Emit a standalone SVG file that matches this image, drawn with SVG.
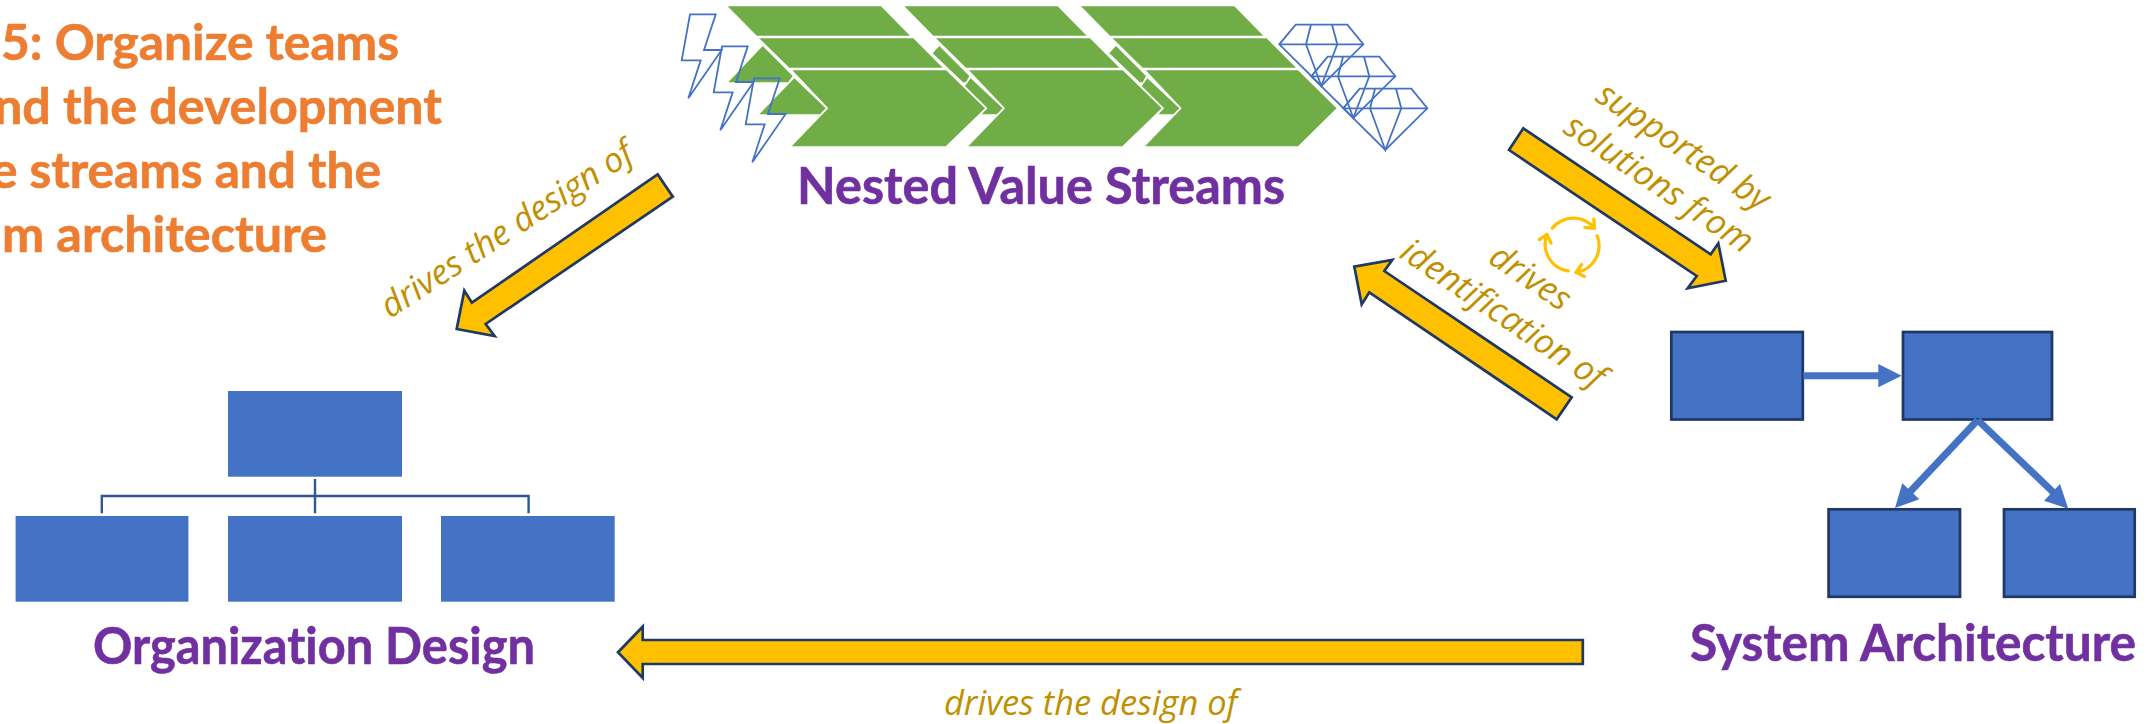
<svg xmlns="http://www.w3.org/2000/svg" width="2151" height="724" viewBox="0 0 2151 724">
<style>
.title{font-family:"Lato","Liberation Sans",sans-serif;font-weight:700;font-size:51px;fill:#7030a0;stroke:#7030a0;stroke-width:.6;font-variant-ligatures:none}
.step{font-family:"Lato","Liberation Sans",sans-serif;font-weight:700;font-size:49px;fill:#ed7d31;stroke:#ed7d31;stroke-width:.6;font-variant-ligatures:none}
.lbl{font-family:"Open Sans","Liberation Sans",sans-serif;font-style:italic;font-size:34.4px;fill:#bf9000}
.box{fill:#4472c4}
.sys{fill:#4472c4;stroke:#1f3864;stroke-width:2.7}
.big{fill:#ffc000;stroke:#1f3864;stroke-width:2.7}
.green{fill:#70ad47}
.ico{fill:none;stroke:#4472c4;stroke-width:1.8}
.org{fill:none;stroke:#2f5597;stroke-width:2.4}
.cyc{fill:none;stroke:#ffc000;stroke-width:3.2;stroke-linecap:round;stroke-linejoin:round}
</style>
<defs>
<g id="bands">
<polygon class="green" points="727.7,6.3 881,6.3 910,35.7 756.7,35.7"/>
<polygon class="green" points="759.3,38.3 913.3,38.3 942.7,67.7 789.3,67.7"/>
</g>
<g id="nested">
<polygon class="green" points="939.3,46 969.3,76 966,82.3 963,82.3 932.7,53.3"/>
<polygon class="green" points="970.7,78.3 1002.7,108.3 996.7,114.3 981.7,114.3 987.5,108.3 965,86"/>
</g>
<polygon id="bolt" class="ico" points="690,14.3 715.7,14.3 704,50 721.7,50 688.3,98.3 700.7,60.3 681.7,60.3"/>
<g id="gem" class="ico">
<polygon points="1295.7,24.7 1347.3,24.7 1363.3,44.3 1321.3,86 1279.3,44.3"/>
<path d="M1279.3 44.3H1363.3M1311 24.7L1306 44.3L1321.3 86L1337.3 44.3L1332 24.7"/>
</g>
<g id="cycArc" class="cyc">
<path d="M-20.3 -16.7A27 27 0 0 1 22 -16.7M12.3 -17.7L22 -16.7L21.3 -26"/>
</g>
</defs>

<g id="nested-value-streams">
<use href="#bands"/>
<use href="#bands" x="176.67"/>
<use href="#bands" x="353.33"/>
<polygon class="green" points="762.7,46 792.7,76 788,82.3 728.3,82.3"/>
<polygon class="green" points="794.3,78.3 825.7,108.3 820,114.3 759.3,114.3"/>
<polygon class="green" points="792.3,70.3 946,70.3 985,108.3 945.7,146.3 791.7,146.3 828.3,108.3"/>
<use href="#nested"/>
<polygon class="green" points="969,70.3 1122.7,70.3 1161.7,108.3 1122.3,146.3 968.3,146.3 1005,108.3"/>
<use href="#nested" x="176.67"/>
<polygon class="green" points="1145.7,70.3 1298,70.3 1336.5,108.3 1298,146.3 1145,146.3 1181.7,108.3"/>
<use href="#bolt"/>
<use href="#bolt" x="32" y="32"/>
<use href="#bolt" x="64" y="64"/>
<use href="#gem"/>
<use href="#gem" x="32" y="32"/>
<use href="#gem" x="64" y="64"/>
<text class="title" x="797" y="204" textLength="488" lengthAdjust="spacingAndGlyphs">Nested Value Streams</text>
</g>

<g id="step-text">
<text class="step" x="1" y="60" textLength="398" lengthAdjust="spacingAndGlyphs">5: Organize teams</text>
<text class="step" x="-6" y="124" textLength="448" lengthAdjust="spacingAndGlyphs">nd the development</text>
<text class="step" x="-9" y="188" textLength="390" lengthAdjust="spacingAndGlyphs">e streams and the</text>
<text class="step" x="2" y="252" textLength="325" lengthAdjust="spacingAndGlyphs">m architecture</text>
</g>

<g id="organization-design">
<rect class="box" x="228" y="391" width="174" height="85.7"/>
<rect class="box" x="15.6" y="516" width="172.8" height="85.7"/>
<rect class="box" x="228" y="516" width="174" height="85.7"/>
<rect class="box" x="441" y="516" width="173.7" height="85.7"/>
<path class="org" d="M315 479V513.3M101.8 513.3V496H528.6V513.3"/>
<text class="title" x="93" y="664" textLength="442" lengthAdjust="spacingAndGlyphs">Organization Design</text>
</g>

<g id="system-architecture">
<rect class="sys" x="1671.3" y="332" width="131.5" height="87.5"/>
<rect class="sys" x="1903" y="332" width="149" height="87.5"/>
<rect class="sys" x="1828.6" y="509.3" width="131.4" height="87.5"/>
<rect class="sys" x="2004" y="509.3" width="130.7" height="87.5"/>
<text class="title" x="1690" y="661" textLength="446" lengthAdjust="spacingAndGlyphs">System Architecture</text>
</g>

<g id="connectors">
<path d="M1803.3 375.7H1880" stroke="#4472c4" stroke-width="7" fill="none"/>
<polygon class="box" points="1878.3,364 1901.7,375.7 1878.3,387.3"/>
<path d="M1977.7 420L1908 494" stroke="#4472c4" stroke-width="7" fill="none"/>
<polygon class="box" points="1895,508 1902.3,483.3 1919.3,499.3"/>
<path d="M1977.7 420L2054 493" stroke="#4472c4" stroke-width="7" fill="none"/>
<polygon class="box" points="2068.3,508.7 2060,484 2044,500.7"/>
<polygon class="big" points="657.6,174.3 672.8,196.7 485.7,324 494.6,336 456.7,329 464.3,290.7 471.9,302.7"/>
<polygon class="big" points="1523.3,128.3 1710.7,254.3 1718.3,243.3 1725.7,280.7 1687.7,288.3 1696.7,276 1509,150"/>
<polygon class="big" points="1556.7,419.3 1571.7,397.3 1384.3,271 1392.3,260 1354.3,266.7 1361.7,304.3 1369.3,292.3"/>
<polygon class="big" points="618,652.3 642.7,626.7 642.7,640 1582.8,640 1582.8,664 642.7,664 642.7,678"/>
<g transform="translate(1572.5 245)">
<use href="#cycArc"/>
<use href="#cycArc" transform="rotate(120)"/>
<use href="#cycArc" transform="rotate(240)"/>
</g>
</g>

<g id="labels">
<text class="lbl" transform="translate(390 319) rotate(-33)">drives the design of</text>
<text class="lbl" x="944" y="715">drives the design of</text>
<text class="lbl" transform="translate(1594 100) rotate(34)">supported by</text>
<text class="lbl" transform="translate(1561.7 131.7) rotate(34)">solutions from</text>
<text class="lbl" transform="translate(1486.7 261.7) rotate(34)">drives</text>
<text class="lbl" transform="translate(1398 256.7) rotate(34)">identification of</text>
</g>
</svg>
